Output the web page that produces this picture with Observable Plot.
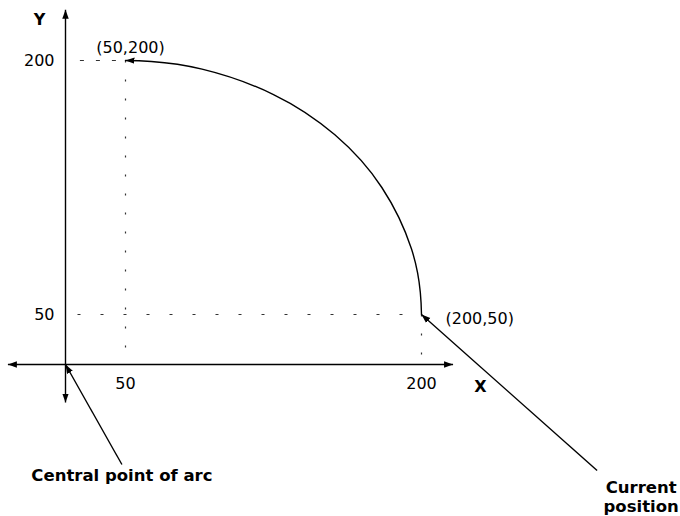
<!DOCTYPE html>
<html>
<head>
<meta charset="utf-8">
<script src="https://cdn.jsdelivr.net/npm/d3@7"></script>
<script src="https://cdn.jsdelivr.net/npm/@observablehq/plot@0.6"></script>
<style>
  html, body { margin: 0; padding: 0; background: #fff; }
</style>
</head>
<body>
<div id="chart"></div>
<script>
// Tick values / labels
const xTicks = [50, 200];
const yTicks = [50, 200];

// Arc from current position (200,50) to (50,200)
const arcX = [200, 199.4, 194.9, 179.9, 156.1, 125, 88.8, 63.1, 50];
const arcY = [50, 63.1, 88.8, 125, 156.1, 179.9, 194.9, 199.4, 200];

// Labelled points
const pointNames = ["(50,200)", "(200,50)"];
const pointX = [50, 200];
const pointY = [200, 50];

// Axis arrow ends (from origin)
const axisEndX = [0, 0, -48, 216];
const axisEndY = [230, -38, 0, 0];

// Guide lines (dashed)
const guideX1 = [12, 50, 10, 200];
const guideY1 = [200, 200, 50, 50];
const guideX2 = [50, 50, 200, 200];
const guideY2 = [200, 0, 50, 0];
const guideDash = ["4,12", "2,17", "3,20", "2,17"];

// Callouts
const calloutText = ["Central point of arc", "Current\nposition"];
const calloutFromX = [47, 289];
const calloutFromY = [-100, -106];
const calloutToX = [0, 200];
const calloutToY = [0, 50];

const arc = arcX.map((x, i) => ({x, y: arcY[i]}));
const points = pointNames.map((t, i) => ({t, x: pointX[i], y: pointY[i]}));
const axes = axisEndX.map((x, i) => ({x1: 0, y1: 0, x2: x, y2: axisEndY[i]}));
const guides = guideX1.map((x, i) => ({x1: x, y1: guideY1[i], x2: guideX2[i], y2: guideY2[i], dash: guideDash[i]}));
const callouts = calloutText.map((t, i) => ({t, x1: calloutFromX[i], y1: calloutFromY[i], x2: calloutToX[i], y2: calloutToY[i]}));

function filledHead(color) {
  const m = document.createElementNS("http://www.w3.org/2000/svg", "marker");
  m.setAttribute("viewBox", "-10 -5 10 10");
  m.setAttribute("markerWidth", 9);
  m.setAttribute("markerHeight", 9);
  m.setAttribute("markerUnits", "userSpaceOnUse");
  m.setAttribute("orient", "auto");
  m.setAttribute("refX", 0);
  m.setAttribute("refY", 0);
  const p = document.createElementNS("http://www.w3.org/2000/svg", "path");
  p.setAttribute("d", "M-10,-3.6L0,0L-10,3.6Z");
  p.setAttribute("fill", color);
  p.setAttribute("stroke", "none");
  m.appendChild(p);
  return m;
}

const chart = Plot.plot({
  width: 680,
  height: 516,
  margin: 0,
  x: {type: "linear", domain: [0, 50, 200], range: [65, 125, 421], axis: null},
  y: {type: "linear", domain: [0, 50, 200], range: [364, 314, 60], axis: null},
  style: {fontFamily: "DejaVu Sans", fontSize: "16px", background: "#fff", color: "#000"},
  marks: [
    ...guides.map(g => Plot.link([g], {x1: "x1", y1: "y1", x2: "x2", y2: "y2", stroke: "#333", strokeWidth: 1.2, strokeDasharray: g.dash})),
    Plot.link(axes, {x1: "x1", y1: "y1", x2: "x2", y2: "y2", stroke: "#000", strokeWidth: 1.4, markerEnd: filledHead}),
    Plot.line(arc, {x: "x", y: "y", curve: "natural", stroke: "#000", strokeWidth: 1.4, markerEnd: filledHead}),
    Plot.link(callouts, {x1: "x1", y1: "y1", x2: "x2", y2: "y2", stroke: "#000", strokeWidth: 1.4, markerEnd: filledHead}),
    Plot.text(yTicks, {x: 0, y: d => d, text: d => String(d), textAnchor: "end", dx: -11}),
    Plot.text(xTicks, {x: d => d, y: 0, text: d => String(d), dy: 19}),
    Plot.text(["Y"], {x: 0, y: 224, text: d => d, dx: -26, fontWeight: "bold"}),
    Plot.text(["X"], {x: 200, y: 0, text: d => d, dx: 59, dy: 22, fontWeight: "bold"}),
    Plot.text(points.slice(0, 1), {x: "x", y: "y", text: "t", dx: 5, dy: -13}),
    Plot.text(points.slice(1), {x: "x", y: "y", text: "t", textAnchor: "start", dx: 24, dy: 4}),
    Plot.text(callouts.slice(0, 1), {x: "x1", y: "y1", text: "t", dy: 11, fontWeight: "bold", fontSize: 16.5}),
    Plot.text(callouts.slice(1), {x: "x1", y: "y1", text: "t", dx: 44, dy: 26, lineHeight: 1.12, fontWeight: "bold", fontSize: 16.5})
  ]
});
document.getElementById("chart").appendChild(chart);
</script>
</body>
</html>
